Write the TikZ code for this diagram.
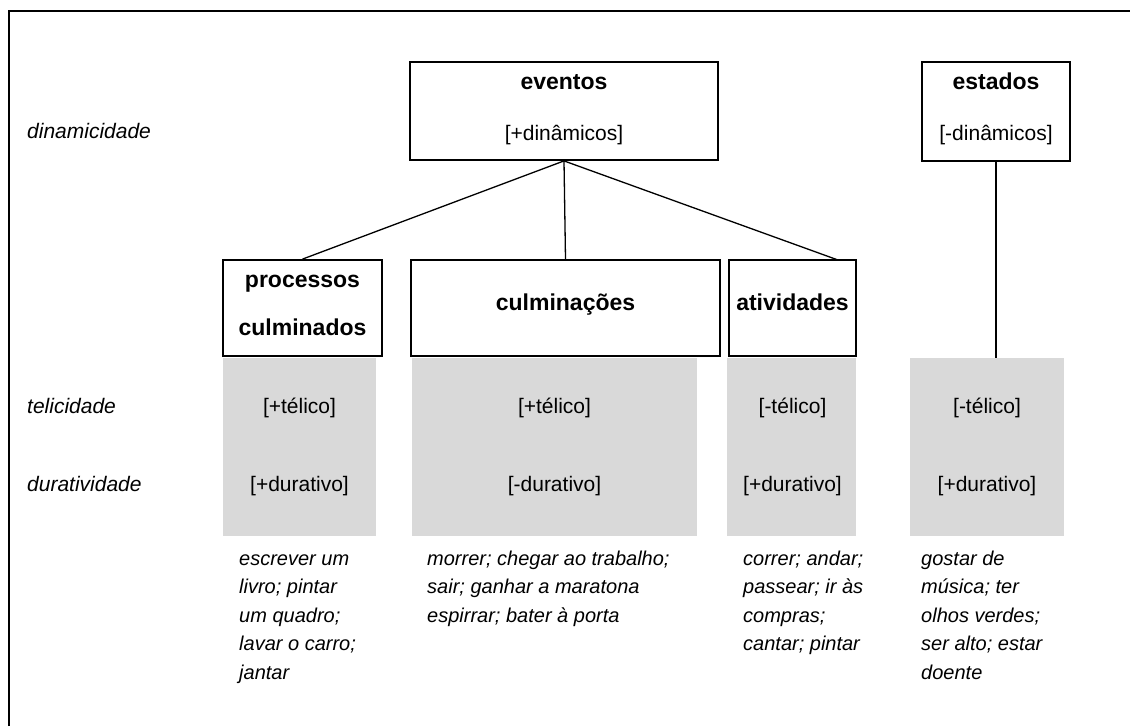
\documentclass[tikz,border=0pt]{standalone}
\usepackage{fontspec}
\setmainfont{Liberation Sans}
\definecolor{cellgray}{HTML}{D9D9D9}
\begin{document}
\begin{tikzpicture}[x=1pt,y=-1pt,
  frame/.style={line width=2pt},
  catbox/.style={draw, line width=1.8pt, inner sep=0pt},
  cell/.style={fill=cellgray, draw=none, inner sep=0pt, minimum height=178pt},
  conn/.style={line width=1.3pt},
  title/.style={font=\bfseries\fontsize{23}{26}\selectfont, anchor=base, inner sep=0pt},
  feat/.style={font=\fontsize{21}{24}\selectfont, anchor=base, inner sep=0pt},
  dim/.style={font=\itshape\fontsize{21}{24}\selectfont, anchor=base west, inner sep=0pt},
  ex/.style={anchor=base west, inner sep=0pt}]
\path[use as bounding box] (0,0) rectangle (1130,726);

% outer frame (open on the right and at the bottom)
\draw[frame] (9,726) -- (9,11) -- (1130,11);

% dimension labels
\node[dim] (ldin) at (27,138) {dinamicidade};
\node[dim] (ltel) at (27,413) {telicidade};
\node[dim] (ldur) at (27,491) {duratividade};

% top level categories
\node[catbox, minimum width=308pt, minimum height=98pt] (ev) at (564,111) {};
\node[title] (evt) at (564,89) {eventos};
\node[feat]  (evf) at (564,140) {[+dinâmicos]};

\node[catbox, minimum width=148pt, minimum height=99pt] (es) at (996,111.5) {};
\node[title] (est) at (996,89) {estados};
\node[feat]  (esf) at (996,140) {[-dinâmicos]};

% event subclasses
\node[catbox, minimum width=159pt, minimum height=96pt] (pc) at (302.5,308) {};
\node[title] (pct1) at (302.5,287) {processos};
\node[title] (pct2) at (302.5,335) {culminados};

\node[catbox, minimum width=309pt, minimum height=96pt] (cu) at (565.5,308) {};
\node[title] (cut) at (565.5,310) {culminações};

\node[catbox, minimum width=127pt, minimum height=96pt] (at) at (792.5,308) {};
\node[title] (att) at (792.5,310) {atividades};

% feature cells
\node[cell, minimum width=153pt] (pg) at (299.5,447) {};
\node[cell, minimum width=285pt] (cg) at (554.5,447) {};
\node[cell, minimum width=129pt] (ag) at (791.5,447) {};
\node[cell, minimum width=154pt] (eg) at (987,447) {};

\node[feat] (pgt) at (299.5,413) {[+télico]};
\node[feat] (pgd) at (299.5,491) {[+durativo]};
\node[feat] (cgt) at (554.5,413) {[+télico]};
\node[feat] (cgd) at (554.5,491) {[-durativo]};
\node[feat] (agt) at (792.5,413) {[-télico]};
\node[feat] (agd) at (792.5,491) {[+durativo]};
\node[feat] (egt) at (987,413) {[-télico]};
\node[feat] (egd) at (987,491) {[+durativo]};

% connectors
\coordinate (atin) at (838,260);
\draw[conn] (ev.south) -- (pc.north);
\draw[conn] (ev.south) -- (cu.north);
\draw[conn] (ev.south) -- (atin);
\draw[conn] (es.south) -- (es.south |- eg.north);

% examples
\newcommand{\exlines}[2]{\parbox[t]{#1}{\raggedright\itshape\fontsize{20}{28.5}\selectfont #2}}
\node[ex] (pex) at (239,565) {\exlines{160pt}{escrever um\\ livro; pintar\\ um quadro;\\ lavar o carro;\\ jantar}};
\node[ex] (cex) at (427,565) {\exlines{280pt}{morrer; chegar ao trabalho;\\ sair; ganhar a maratona\\ espirrar; bater à porta}};
\node[ex] (aex) at (743,565) {\exlines{160pt}{correr; andar;\\ passear; ir às\\ compras;\\ cantar; pintar}};
\node[ex] (eex) at (921,565) {\exlines{160pt}{gostar de\\ música; ter\\ olhos verdes;\\ ser alto; estar\\ doente}};
\end{tikzpicture}
\end{document}
